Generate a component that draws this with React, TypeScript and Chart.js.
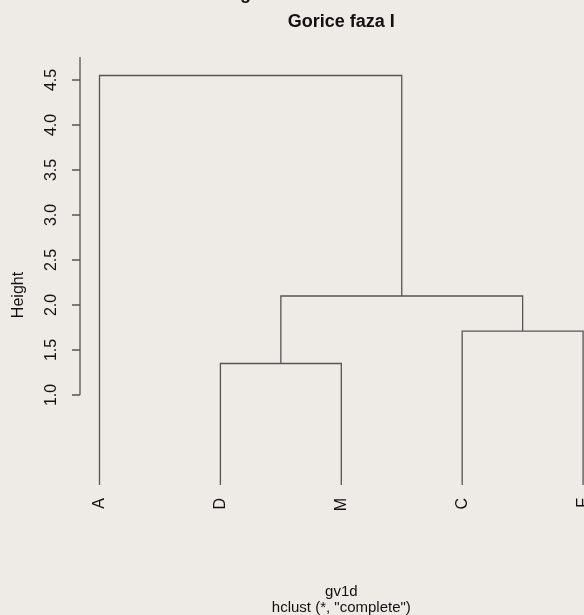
import React, { useEffect, useRef } from "react";
import { Chart, registerables } from "chart.js";

Chart.register(...registerables);

// ---- data ----
const leafLabels = ["A", "D", "M", "C", "F"];
// merges (R hclust style): negative = leaf number (1-based, in plot order), positive = earlier merge
const mergeLeft = [-2, -4, 1, -1];
const mergeRight = [-3, -5, 2, 3];
const mergeHeight = [1.35, 1.71, 2.1, 4.55];
const leafHeight = 0;
const yTicks = [1.0, 1.5, 2.0, 2.5, 3.0, 3.5, 4.0, 4.5];
const yTickLabels = ["1.0", "1.5", "2.0", "2.5", "3.0", "3.5", "4.0", "4.5"];
const titleText = "Gorice faza I";
const topCutText = "Cluster Dendrogram";
const yAxisTitle = "Height";
const xAxisTitle = "gv1d";
const subTitle = 'hclust (*, "complete")';

// ---- styles ----
const BG = "#eeebe6";
const LINE = "#555555";
const TEXT = "#111111";
const FONT = "'Liberation Sans', Arial, Helvetica, sans-serif";

function buildSegments() {
  const mx: number[] = [];
  const pos = (c: number) => (c < 0 ? -c : mx[c - 1]);
  const hgt = (c: number) => (c < 0 ? leafHeight : mergeHeight[c - 1]);
  const sets: { x: number; y: number }[][] = [];
  for (let i = 0; i < mergeHeight.length; i++) {
    const l = mergeLeft[i];
    const r = mergeRight[i];
    const xl = pos(l);
    const xr = pos(r);
    const h = mergeHeight[i];
    mx.push((xl + xr) / 2);
    sets.push([
      { x: xl, y: hgt(l) },
      { x: xl, y: h },
      { x: xr, y: h },
      { x: xr, y: hgt(r) },
    ]);
  }
  return sets;
}

const decorPlugin = {
  id: "decor",
  beforeDraw(chart: any) {
    const ctx = chart.ctx;
    ctx.save();
    ctx.fillStyle = BG;
    ctx.fillRect(0, 0, chart.width, chart.height);
    ctx.restore();
  },
  afterDraw(chart: any) {
    const ctx = chart.ctx;
    const xs = chart.scales.x;
    const ys = chart.scales.y;
    const area = chart.chartArea;
    const axisX = area.left;
    ctx.save();
    // y axis line + ticks
    ctx.strokeStyle = LINE;
    ctx.lineWidth = 1.3;
    ctx.beginPath();
    ctx.moveTo(axisX, ys.getPixelForValue(yTicks[0]));
    ctx.lineTo(axisX, area.top);
    yTicks.forEach((t) => {
      const py = ys.getPixelForValue(t);
      ctx.moveTo(axisX - 8, py);
      ctx.lineTo(axisX, py);
    });
    ctx.stroke();

    ctx.fillStyle = TEXT;
    // y tick labels (rotated)
    ctx.font = `16px ${FONT}`;
    ctx.textAlign = "center";
    ctx.textBaseline = "alphabetic";
    yTicks.forEach((t, i) => {
      const py = ys.getPixelForValue(t);
      ctx.save();
      ctx.translate(axisX - 24, py);
      ctx.rotate(-Math.PI / 2);
      ctx.fillText(yTickLabels[i], 0, 0);
      ctx.restore();
    });
    // y axis title
    ctx.save();
    ctx.translate(23, 295);
    ctx.rotate(-Math.PI / 2);
    ctx.fillText(yAxisTitle, 0, 0);
    ctx.restore();

    // leaf labels
    ctx.textAlign = "right";
    ctx.textBaseline = "middle";
    leafLabels.forEach((lab, i) => {
      const px = xs.getPixelForValue(i + 1);
      const py = ys.getPixelForValue(leafHeight) + 13;
      ctx.save();
      ctx.translate(px, py);
      ctx.rotate(-Math.PI / 2);
      ctx.fillText(lab, 0, 0);
      ctx.restore();
    });

    // title
    const cx = xs.getPixelForValue((1 + leafLabels.length) / 2);
    ctx.font = `bold 18px ${FONT}`;
    ctx.textAlign = "center";
    ctx.textBaseline = "alphabetic";
    ctx.fillText(titleText, cx, 27);
    // cut-off text above
    ctx.textAlign = "left";
    const pre = ctx.measureText("Cluster Dendro").width;
    ctx.fillText(topCutText, 240 - pre, -1);

    // x title + sub
    ctx.font = `15px ${FONT}`;
    ctx.textAlign = "center";
    ctx.fillText(xAxisTitle, cx, 596);
    ctx.fillText(subTitle, cx, 612);
    ctx.restore();
  },
};

export default function App() {
  const ref = useRef<HTMLCanvasElement | null>(null);
  useEffect(() => {
    document.body.style.margin = "0";
    document.body.style.background = BG;
    const segs = buildSegments();
    const pxPerUnitX = 120.9;
    const xMin = 1 - 19.5 / pxPerUnitX;
    const xMax = xMin + 504 / pxPerUnitX;
    const chart = new Chart(ref.current as HTMLCanvasElement, {
      type: "scatter",
      data: {
        datasets: segs.map((d) => ({
          data: d,
          showLine: true,
          borderColor: LINE,
          borderWidth: 1.3,
          pointRadius: 0,
          pointHoverRadius: 0,
          fill: false,
          tension: 0,
          clip: 4,
        })),
      },
      options: {
        animation: false,
        responsive: false,
        devicePixelRatio: 1,
        events: [],
        layout: { padding: { left: 80, right: 0, top: 57, bottom: 130 } },
        plugins: { legend: { display: false }, tooltip: { enabled: false }, title: { display: false } },
        scales: {
          x: { type: "linear", display: false, min: xMin, max: xMax },
          y: { type: "linear", display: false, min: 0, max: 428 / 90 },
        },
      },
      plugins: [decorPlugin],
    } as any);
    return () => chart.destroy();
  }, []);
  return (
    <div style={{ position: "fixed", left: 0, top: 0, width: 584, height: 615 }}>
      <canvas ref={ref} width={584} height={615} style={{ display: "block" }} />
    </div>
  );
}
